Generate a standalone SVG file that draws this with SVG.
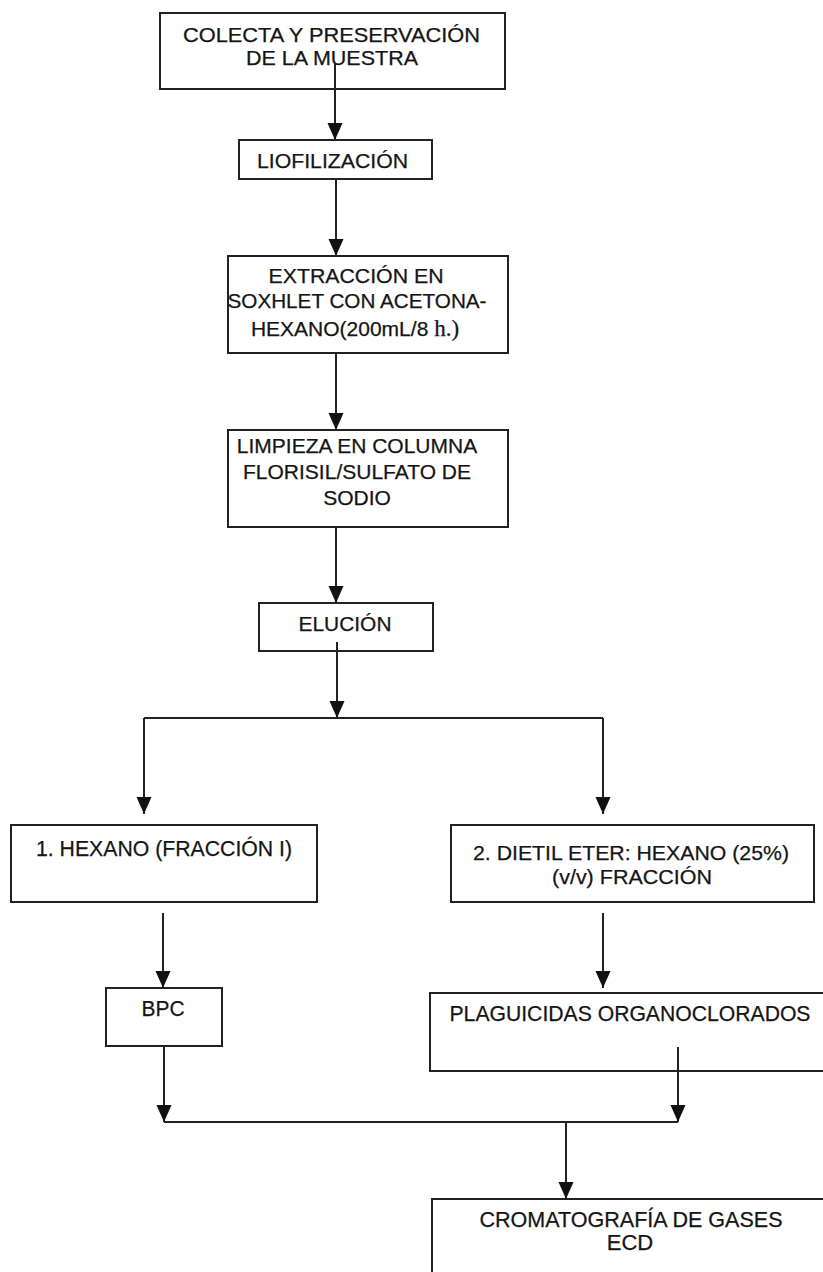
<svg xmlns="http://www.w3.org/2000/svg" width="823" height="1272" viewBox="0 0 823 1272">
<style>
.box{fill:#fff;stroke:#222;stroke-width:2}
.t{font-family:"Liberation Sans",Arial,sans-serif;font-size:21px;fill:#151515;text-anchor:middle;stroke:#151515;stroke-width:0.25}
.n{font-size:22px}
.c{stroke:#222;stroke-width:2;fill:none}
.a{marker-end:url(#arr)}
</style>
<defs>
<marker id="arr" markerUnits="userSpaceOnUse" viewBox="0 -8 17 16" markerWidth="17" markerHeight="16" refX="17" refY="0" orient="auto">
<path d="M0,-7.5 L17,0 L0,7.5 z" fill="#111"/>
</marker>
</defs>
<rect width="823" height="1272" fill="#fff"/>
<g id="n1"><rect class="box" x="160" y="13" width="345" height="76"/>
<text class="t" x="331.5" y="42" textLength="297" lengthAdjust="spacingAndGlyphs">COLECTA Y PRESERVACIÓN</text>
<text class="t" x="332" y="65" textLength="172" lengthAdjust="spacingAndGlyphs">DE LA MUESTRA</text></g>
<g id="n2"><rect class="box" x="239" y="140" width="193" height="39"/>
<text class="t" x="332.5" y="168" textLength="151" lengthAdjust="spacingAndGlyphs">LIOFILIZACIÓN</text></g>
<g id="n3"><rect class="box" x="228" y="256" width="280" height="97"/>
<text class="t" x="356" y="283" textLength="175" lengthAdjust="spacingAndGlyphs">EXTRACCIÓN EN</text>
<text class="t" x="357" y="308" textLength="259" lengthAdjust="spacingAndGlyphs">SOXHLET CON ACETONA-</text>
<text class="t" x="355" y="336">HEXANO(200mL/8 <tspan font-family="Liberation Serif,serif" font-size="23">h.)</tspan></text></g>
<g id="n4"><rect class="box" x="228" y="430" width="280" height="97"/>
<text class="t" x="357" y="453">LIMPIEZA EN COLUMNA</text>
<text class="t" x="357" y="479">FLORISIL/SULFATO DE</text>
<text class="t" x="357" y="505">SODIO</text></g>
<g id="n5"><rect class="box" x="259" y="603" width="174" height="48"/>
<text class="t" x="345" y="631" textLength="93" lengthAdjust="spacingAndGlyphs">ELUCIÓN</text></g>
<g id="n6"><rect class="box" x="11" y="825" width="306" height="77"/>
<text class="t n" x="164" y="856" textLength="256" lengthAdjust="spacingAndGlyphs">1. HEXANO (FRACCIÓN I)</text></g>
<g id="n7"><rect class="box" x="451" y="825" width="363" height="77"/>
<text class="t" x="631" y="860" textLength="316" lengthAdjust="spacingAndGlyphs">2. DIETIL ETER: HEXANO (25%)</text>
<text class="t" x="632" y="884" textLength="160" lengthAdjust="spacingAndGlyphs">(v/v) FRACCIÓN</text></g>
<g id="n8"><rect class="box" x="106" y="988" width="116" height="58"/>
<text class="t n" x="163" y="1016" textLength="43" lengthAdjust="spacingAndGlyphs">BPC</text></g>
<g id="n9"><rect class="box" x="430" y="993" width="400" height="78"/>
<text class="t n" x="630" y="1021" textLength="361" lengthAdjust="spacingAndGlyphs">PLAGUICIDAS ORGANOCLORADOS</text></g>
<g id="n10"><rect class="box" x="432" y="1199" width="400" height="90"/>
<text class="t n" x="631" y="1227" textLength="303" lengthAdjust="spacingAndGlyphs">CROMATOGRAFÍA DE GASES</text>
<text class="t n" x="630" y="1250">ECD</text></g>
<g id="connectors">
<path class="c a" d="M335,63 V140"/>
<path class="c a" d="M336,179 V256"/>
<path class="c a" d="M336,353 V430"/>
<path class="c a" d="M336,527 V603"/>
<path class="c a" d="M337,642 V718"/>
<path class="c" d="M144,718 H603"/>
<path class="c a" d="M144,718 V814"/>
<path class="c a" d="M603,718 V814"/>
<path class="c a" d="M163,913 V988"/>
<path class="c a" d="M603,913 V988"/>
<path class="c a" d="M164,1046 V1122"/>
<path class="c a" d="M678,1047 V1122"/>
<path class="c" d="M164,1122 H678"/>
<path class="c a" d="M566,1122 V1199"/>
</g>
</svg>
